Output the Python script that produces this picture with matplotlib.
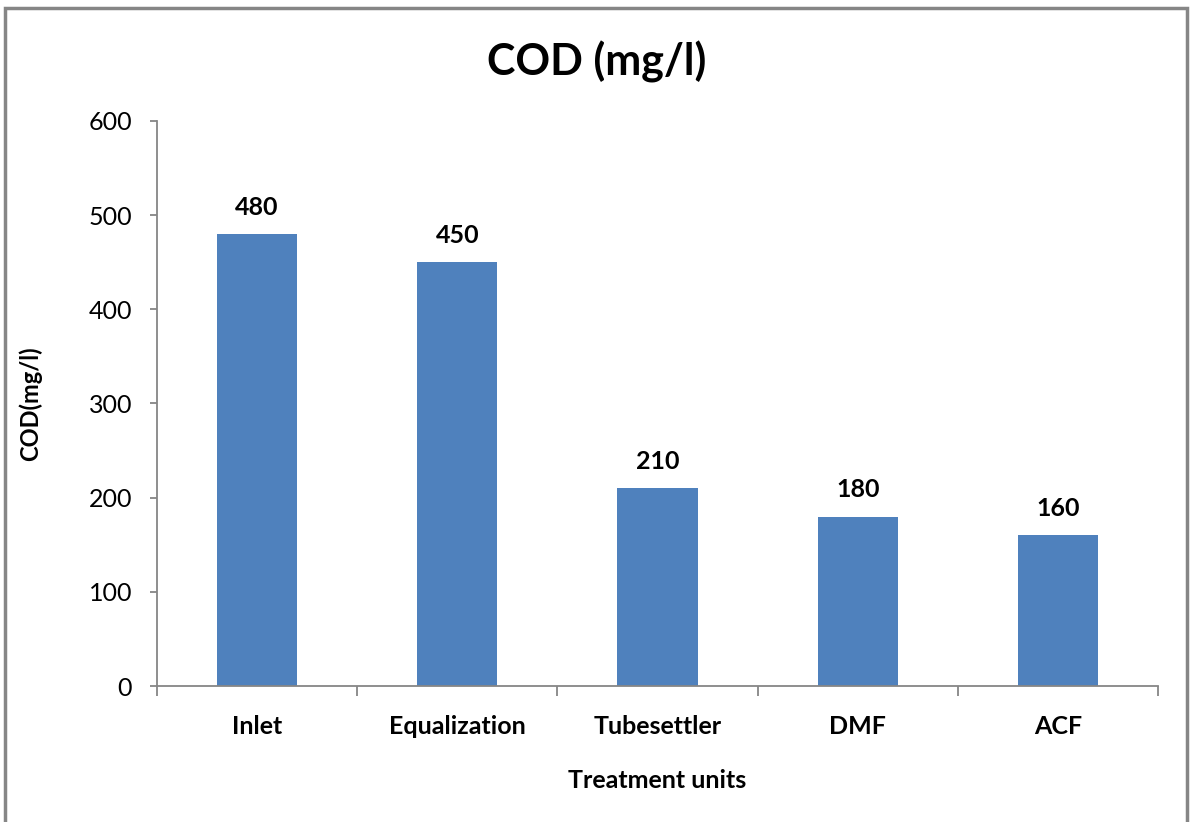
import matplotlib
matplotlib.use("Agg")
import matplotlib.pyplot as plt
from matplotlib.patches import Rectangle

# values
units = ["Inlet", "Equalization", "Tubesettler", "DMF", "ACF"]
cod = [480, 450, 210, 180, 160]
yticks = [0, 100, 200, 300, 400, 500, 600]

plt.rcParams['font.family'] = ['Lato', 'DejaVu Sans']

fig = plt.figure(figsize=(11.94, 8.22), dpi=100)
# outer chart frame like the excel chart area
fig.patches.append(Rectangle((5 / 1194, -0.01), 1182 / 1194, 1 - 8 / 822 + 0.01,
                             transform=fig.transFigure, fill=False,
                             edgecolor="#868686", linewidth=2.5))

ax = fig.add_axes([157 / 1194, 1 - 686 / 822, (1158 - 157) / 1194, (686 - 121) / 822])
x = list(range(len(units)))
bars = ax.bar(x, cod, width=0.4, color="#4F81BD")
for b, v in zip(bars, cod):
    ax.text(b.get_x() + b.get_width() / 2, v + 16, str(v), ha="center", va="bottom",
            fontsize=18, fontweight="bold")

ax.set_xlim(-0.5, len(units) - 0.5)
ax.set_ylim(0, 600)
ax.set_yticks(yticks)
ax.set_xticks(x)
ax.set_xticklabels(units, fontsize=18, fontweight="bold")
ax.set_xticks([i - 0.5 for i in range(len(units) + 1)], minor=True)
ax.tick_params(axis="x", which="major", length=0, pad=21)
ax.tick_params(axis="x", which="minor", length=7, color="#868686", width=1.3)
ax.tick_params(axis="y", length=5, color="#868686", width=1.3, labelsize=18, pad=13)

for s in ["top", "right"]:
    ax.spines[s].set_visible(False)
for s in ["left", "bottom"]:
    ax.spines[s].set_color("#868686")
    ax.spines[s].set_linewidth(1.3)

ax.set_xlabel("Treatment units", fontsize=18, fontweight="bold", va="center")
ax.xaxis.set_label_coords(0.5, -(780 - 686) / 565)
ax.set_ylabel("COD(mg/l)", fontsize=17, fontweight="bold", va="center")
ax.yaxis.set_label_coords(-(157 - 30) / 1001, 0.5)
fig.text(597 / 1194, 1 - 62 / 822, "COD (mg/l)", ha="center", va="center",
         fontsize=31, fontweight="bold")

fig.savefig("out.png", dpi=100)
